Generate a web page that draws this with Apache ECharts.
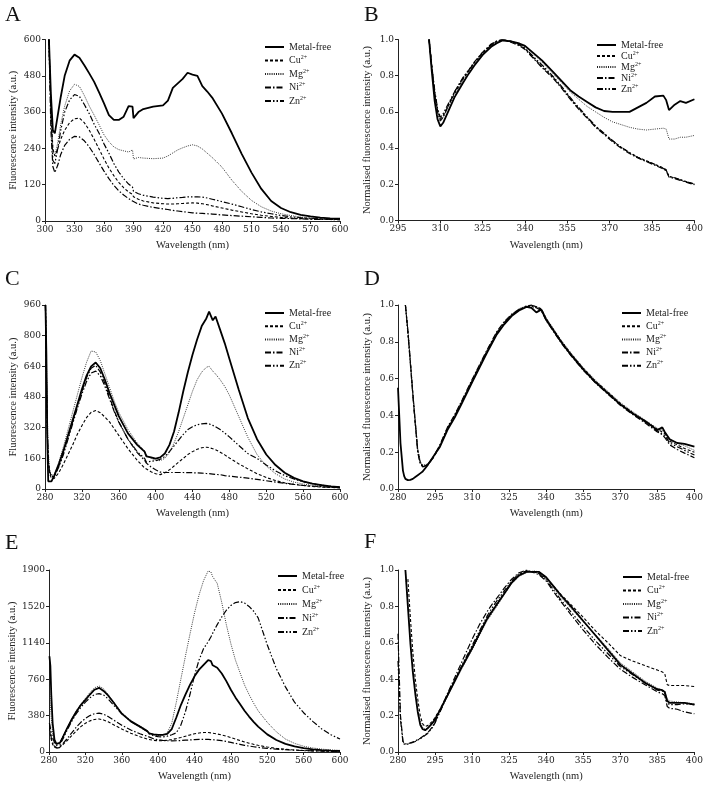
<!DOCTYPE html>
<html><head><meta charset="utf-8">
<script src="https://cdn.jsdelivr.net/npm/echarts@6/dist/echarts.min.js"></script>
<style>html,body{margin:0;padding:0;background:#fff}#c{width:706px;height:786px}</style>
</head><body><div id="c"></div>
<script>
// ---------- Panel A ----------
const A_x = [304,306,308,310,313,316,320,325,330,335,340,345,350,355,360,365,370,375,380,385,389,390,395,400,410,420,425,430,435,440,445,450,455,460,465,470,480,490,500,510,520,530,540,550,560,570,580,590,600];
const A_metal = [600,420,300,290,350,410,480,530,550,540,515,488,460,425,389,350,334,334,345,380,378,340,360,370,378,382,398,440,455,470,490,484,480,446,428,408,355,290,222,160,106,66,43,29,20,15,11,9,8];
const A_cu = [600,380,240,215,240,270,300,325,338,340,325,300,270,238,205,175,150,128,110,96,88,80,72,66,60,57,56,56,57,58,59,60,59,57,54,50,43,36,30,24,19,15,12,10,8,7,6,5,5];
const A_mg = [600,400,230,215,260,320,380,430,452,445,415,380,350,318,285,262,245,236,232,228,235,205,210,208,206,208,215,225,235,242,248,252,248,238,224,210,178,135,98,68,47,33,24,18,13,10,8,6,5];
const A_ni = [600,300,180,160,185,220,250,270,280,278,265,245,220,192,165,140,118,100,86,74,66,62,56,52,45,40,38,35,33,31,29,27,26,25,24,23,20,18,16,14,12,10,9,8,7,6,5,5,4];
const A_zn = [600,350,200,190,240,300,360,400,418,412,385,355,320,290,255,224,190,162,140,122,112,98,90,85,79,75,74,75,77,78,80,80,80,79,76,72,64,56,47,38,30,24,18,14,11,9,7,6,5];
const A_xticks = [300, 600, 30];
const A_yticks = [0, 600, 120];

// ---------- Panel B ----------
const B_x = [306,307,308,309,310,311,313,315,318,320,322,325,328,330,332,335,338,340,343,346,350,353,356,359,362,365,368,371,374,377,380,383,386,389,390,391,393,395,397,400];
const B_metal = [1.0,0.82,0.66,0.56,0.52,0.54,0.61,0.68,0.76,0.81,0.855,0.915,0.96,0.98,0.995,0.99,0.978,0.965,0.925,0.885,0.82,0.77,0.72,0.685,0.655,0.625,0.605,0.6,0.6,0.6,0.625,0.65,0.685,0.69,0.665,0.61,0.64,0.66,0.65,0.67];
const B_cu = [1.0,0.85,0.71,0.61,0.56,0.58,0.64,0.7,0.78,0.825,0.87,0.925,0.97,0.99,1.0,0.99,0.97,0.95,0.9,0.85,0.79,0.735,0.675,0.62,0.57,0.52,0.48,0.44,0.405,0.375,0.35,0.33,0.31,0.29,0.28,0.245,0.235,0.225,0.215,0.2];
const B_mg = [1.0,0.84,0.7,0.6,0.55,0.57,0.63,0.69,0.77,0.815,0.86,0.92,0.965,0.985,0.998,0.992,0.975,0.96,0.92,0.875,0.81,0.76,0.71,0.67,0.63,0.6,0.57,0.545,0.53,0.515,0.505,0.5,0.505,0.51,0.505,0.45,0.45,0.46,0.46,0.47];
const B_ni = [1.0,0.84,0.7,0.6,0.55,0.57,0.64,0.71,0.79,0.83,0.875,0.93,0.975,0.992,0.998,0.985,0.965,0.945,0.895,0.845,0.785,0.73,0.67,0.615,0.565,0.515,0.475,0.435,0.4,0.37,0.345,0.325,0.305,0.285,0.275,0.24,0.232,0.222,0.212,0.198];
const B_zn = [1.0,0.85,0.72,0.62,0.57,0.59,0.65,0.71,0.785,0.83,0.87,0.93,0.97,0.99,0.995,0.99,0.972,0.952,0.905,0.86,0.795,0.74,0.68,0.625,0.572,0.522,0.482,0.442,0.405,0.375,0.348,0.328,0.31,0.288,0.278,0.243,0.236,0.226,0.214,0.202];
const B_xticks = [295, 400, 15];
const B_yticks = [0, 1, 0.2];

// ---------- Panel C ----------
const C_x = [280.5,281.5,282.5,283.5,285,287,290,295,300,305,310,315,320,325,330,335,340,345,350,355,360,370,380,388,390,395,400,405,410,415,420,425,430,435,440,445,450,455,458,462,465,470,475,480,490,500,510,520,530,540,550,560,570,580,590,600];
const C_metal = [960,700,250,40,30,40,70,130,200,280,360,440,520,590,640,660,630,570,500,440,380,290,230,195,170,165,158,165,185,230,300,400,510,610,700,780,850,890,925,880,900,830,760,680,520,370,260,180,125,85,58,40,28,20,14,10];
const C_cu = [960,600,300,150,80,55,55,85,130,180,230,285,330,372,400,410,398,375,350,315,280,210,150,110,103,90,80,75,85,100,120,140,160,180,195,207,215,218,216,210,205,192,178,162,132,105,80,60,44,32,24,18,13,10,8,6];
const C_mg = [960,700,400,200,100,70,75,140,220,310,400,490,580,660,720,715,670,600,530,460,400,310,240,200,175,160,150,148,160,190,240,300,370,440,510,570,610,635,640,615,600,570,535,490,380,270,180,120,80,52,36,26,19,14,10,7];
const C_ni = [960,600,300,150,90,65,65,120,190,270,350,430,510,580,630,645,610,550,480,410,350,260,190,150,135,115,100,88,86,86,86,86,86,85,85,84,83,81,80,78,76,75,70,67,62,57,50,43,36,30,24,19,15,12,9,7];
const C_zn = [960,600,300,150,90,65,65,115,180,260,340,420,495,560,605,615,590,535,470,405,350,260,195,160,140,145,148,155,170,195,225,255,285,310,325,335,340,342,340,332,325,310,292,272,228,185,160,125,95,70,52,38,28,20,14,10];
const C_xticks = [280, 600, 40];
const C_yticks = [0, 960, 160];

// ---------- Panel D ----------
const D_x = [280,281,282,282.5,283,284,285,286,287,288,289,290,292,294,295,297,300,303,306,310,313,316,320,323,326,329,332,334,336,338,340,343,346,350,355,360,365,370,375,380,385,387,388,390,393,396,400];
const D_metal = [0.55,0.25,0.1,0.07,0.055,0.048,0.05,0.055,0.065,0.075,0.085,0.095,0.13,0.17,0.19,0.23,0.32,0.39,0.47,0.58,0.66,0.74,0.84,0.895,0.94,0.97,0.99,0.985,0.96,0.975,0.92,0.86,0.8,0.73,0.65,0.58,0.52,0.46,0.41,0.37,0.32,0.335,0.31,0.27,0.25,0.245,0.23];
const D_cu = [null,null,null,null,1.0,0.86,0.69,0.52,0.36,0.21,0.145,0.125,0.13,0.165,0.185,0.235,0.325,0.395,0.475,0.585,0.665,0.745,0.845,0.9,0.945,0.975,0.99,1.0,0.99,0.98,0.925,0.865,0.805,0.735,0.655,0.585,0.525,0.465,0.415,0.37,0.325,0.31,0.3,0.26,0.24,0.22,0.2];
const D_mg = [null,null,null,null,1.0,0.87,0.7,0.53,0.37,0.22,0.15,0.13,0.135,0.17,0.19,0.24,0.33,0.4,0.48,0.59,0.67,0.75,0.85,0.905,0.95,0.98,0.995,0.99,0.985,0.98,0.93,0.87,0.81,0.74,0.66,0.59,0.53,0.47,0.42,0.375,0.33,0.32,0.305,0.27,0.25,0.235,0.21];
const D_ni = [null,null,null,null,1.0,0.85,0.68,0.51,0.35,0.2,0.14,0.12,0.13,0.165,0.19,0.24,0.335,0.405,0.485,0.595,0.675,0.755,0.855,0.91,0.95,0.975,0.99,0.995,0.985,0.97,0.915,0.855,0.795,0.725,0.645,0.575,0.515,0.455,0.405,0.36,0.31,0.295,0.28,0.24,0.215,0.195,0.17];
const D_zn = [null,null,null,null,1.0,0.86,0.69,0.52,0.36,0.2,0.14,0.122,0.132,0.168,0.19,0.238,0.33,0.4,0.48,0.59,0.67,0.75,0.85,0.905,0.945,0.975,0.995,1.0,0.99,0.975,0.92,0.86,0.8,0.73,0.65,0.58,0.52,0.46,0.41,0.365,0.315,0.3,0.29,0.25,0.23,0.21,0.185];
const D_xticks = [280, 400, 15];
const D_yticks = [0, 1, 0.2];

// ---------- Panel E ----------
const E_x = [280.5,281.5,282.5,284,286,288,290,292,295,300,305,310,315,320,325,330,335,340,345,350,360,370,380,388,390,395,400,405,410,415,420,425,430,435,440,445,450,455,458,460,465,470,475,480,485,490,495,500,505,510,520,530,540,550,560,570,580,590,600];
const E_metal = [1000,900,600,300,130,85,80,95,150,250,340,420,490,545,600,650,670,637,590,530,400,320,265,220,195,185,178,178,190,240,360,490,600,700,790,860,910,960,950,905,880,820,740,650,570,500,430,370,315,265,184,125,85,58,40,28,20,14,11];
const E_cu = [250,180,130,80,50,35,35,45,75,120,170,220,265,300,325,340,345,335,315,290,240,195,160,135,128,122,118,118,122,130,140,152,165,178,190,198,203,203,200,197,188,178,165,150,135,120,105,92,80,70,52,38,28,21,16,12,10,8,7];
const E_mg = [700,500,350,200,110,80,80,100,160,260,350,430,500,560,620,670,690,660,600,535,410,330,270,225,200,180,170,172,200,300,520,760,1000,1230,1450,1640,1790,1890,1880,1830,1760,1560,1330,1130,960,830,700,600,510,430,310,210,135,90,60,42,30,22,17];
const E_ni = [300,200,150,100,60,40,40,50,85,140,200,260,310,350,380,400,405,395,370,340,280,230,190,165,150,138,128,122,118,117,118,120,123,126,129,131,132,131,130,128,124,118,110,100,90,80,70,62,55,48,38,30,24,19,15,12,10,8,7];
const E_zn = [300,250,200,150,100,70,60,75,130,230,320,400,465,520,565,600,610,595,555,500,400,320,260,215,190,170,160,158,165,180,200,280,420,600,800,960,1080,1150,1200,1240,1330,1410,1480,1530,1560,1570,1555,1520,1470,1400,1120,870,680,520,410,320,240,180,135];
const E_xticks = [280, 600, 40];
const E_yticks = [0, 1900, 380];

// ---------- Panel F ----------
const F_x = [280,281,282,282.5,283,284,285,286,287,288,289,290,291,292,294,295,297,300,303,306,310,313,316,318,320,323,326,329,332,335,337,340,343,346,350,355,360,365,370,375,380,385,387,388,389,390,393,396,400];
const F_metal = [null,null,null,null,1.0,0.8,0.6,0.44,0.32,0.22,0.15,0.125,0.12,0.13,0.16,0.18,0.23,0.31,0.39,0.47,0.57,0.65,0.73,0.77,0.81,0.87,0.93,0.97,0.99,0.99,0.99,0.96,0.91,0.86,0.8,0.72,0.64,0.56,0.48,0.43,0.38,0.345,0.34,0.33,0.28,0.27,0.27,0.27,0.26];
const F_cu = [null,null,null,null,null,0.95,0.74,0.55,0.4,0.29,0.2,0.155,0.14,0.145,0.17,0.19,0.235,0.315,0.395,0.475,0.575,0.655,0.735,0.775,0.815,0.875,0.935,0.975,0.995,0.99,0.985,0.955,0.91,0.865,0.81,0.74,0.665,0.6,0.53,0.5,0.475,0.45,0.44,0.43,0.37,0.365,0.365,0.365,0.36];
const F_mg = [null,null,null,null,1.0,0.82,0.62,0.46,0.34,0.24,0.165,0.135,0.125,0.13,0.155,0.175,0.225,0.305,0.385,0.465,0.56,0.64,0.72,0.76,0.8,0.865,0.925,0.965,0.985,0.995,0.99,0.95,0.9,0.85,0.79,0.715,0.645,0.57,0.49,0.44,0.39,0.35,0.34,0.335,0.29,0.28,0.275,0.27,0.265];
const F_ni = [0.65,0.2,0.06,0.045,0.042,0.045,0.05,0.055,0.06,0.068,0.075,0.085,0.095,0.105,0.14,0.165,0.225,0.32,0.41,0.5,0.62,0.7,0.77,0.81,0.845,0.9,0.95,0.985,1.0,0.985,0.975,0.94,0.88,0.825,0.755,0.67,0.59,0.52,0.455,0.41,0.37,0.33,0.32,0.31,0.25,0.24,0.235,0.22,0.21];
const F_zn = [0.5,0.18,0.055,0.043,0.04,0.043,0.048,0.053,0.058,0.066,0.073,0.082,0.092,0.102,0.135,0.16,0.22,0.31,0.395,0.48,0.585,0.665,0.745,0.79,0.83,0.885,0.94,0.98,0.995,0.99,0.98,0.945,0.89,0.835,0.77,0.69,0.61,0.54,0.47,0.425,0.38,0.34,0.335,0.325,0.27,0.26,0.26,0.265,0.26];
const F_xticks = [280, 400, 15];
const F_yticks = [0, 1, 0.2];

const seriesNames = ['Metal-free', 'Cu2+', 'Mg2+', 'Ni2+', 'Zn2+'];
const xTitle = 'Wavelength (nm)';
const yTitleRaw = 'Fluorescence intensity (a.u.)';
const yTitleNorm = 'Normalised fluorescence intensity (a.u.)';

// ---------- layout / style ----------
const LINE = {
  'Metal-free': {width: 1.8, type: 'solid', color: '#000'},
  'Cu2+': {width: 1.1, type: [3, 2], color: '#000'},
  'Mg2+': {width: 0.9, type: [1, 1.2], color: '#222'},
  'Ni2+': {width: 1.2, type: [6, 2, 1.5, 2], color: '#000'},
  'Zn2+': {width: 1.2, type: [6, 2, 1.5, 2, 1.5, 2], color: '#000'}
};
const panels = [
  {L:'A', x:A_x, ys:[A_metal,A_cu,A_mg,A_ni,A_zn], xt:A_xticks, yt:A_yticks, yname:yTitleRaw, grid:{left:45,top:39.5,width:295,height:181.5}, ygap:26, letter:[5,4], lg:{left:264,top:42,gap:2.5}, dec:0},
  {L:'B', x:B_x, ys:[B_metal,B_cu,B_mg,B_ni,B_zn], xt:B_xticks, yt:B_yticks, yname:yTitleNorm, grid:{left:398,top:39.5,width:298,height:181}, ygap:25, letter:[364,4], lg:{left:596,top:40,gap:0}, dec:1},
  {L:'C', x:C_x, ys:[C_metal,C_cu,C_mg,C_ni,C_zn], xt:C_xticks, yt:C_yticks, yname:yTitleRaw, grid:{left:45,top:305,width:295,height:184}, ygap:26, letter:[5,268], lg:{left:264,top:308,gap:2.2}, dec:0},
  {L:'D', x:D_x, ys:[D_metal,D_cu,D_mg,D_ni,D_zn], xt:D_xticks, yt:D_yticks, yname:yTitleNorm, grid:{left:398,top:305,width:298,height:184}, ygap:25, letter:[364,268], lg:{left:621,top:308,gap:2.2}, dec:1},
  {L:'E', x:E_x, ys:[E_metal,E_cu,E_mg,E_ni,E_zn], xt:E_xticks, yt:E_yticks, yname:yTitleRaw, grid:{left:49,top:570,width:291,height:182}, ygap:30, letter:[5,532], lg:{left:277,top:571,gap:3}, dec:0},
  {L:'F', x:F_x, ys:[F_metal,F_cu,F_mg,F_ni,F_zn], xt:F_xticks, yt:F_yticks, yname:yTitleNorm, grid:{left:398,top:570,width:298,height:182}, ygap:25, letter:[364,531], lg:{left:622,top:572,gap:2.5}, dec:1}
];

const SERIF = "'Liberation Serif','DejaVu Serif',serif";
const TICKFONT = "'DejaVu Serif','Liberation Serif',serif";

const option = {
  animation: false,
  backgroundColor: '#fff',
  grid: [], xAxis: [], yAxis: [], series: [], legend: [], graphic: []
};

panels.forEach((p, gi) => {
  option.grid.push(Object.assign({containLabel: false}, p.grid));
  option.xAxis.push({
    type: 'value', gridIndex: gi, min: p.xt[0], max: p.xt[1], interval: p.xt[2],
    name: xTitle, nameLocation: 'middle', nameGap: 19,
    nameTextStyle: {fontFamily: SERIF, fontSize: 10.5, color: '#222'},
    axisLine: {show: true, onZero: false, lineStyle: {color: '#222', width: 1}},
    axisTick: {show: true, inside: false, length: 3, lineStyle: {color: '#222'}},
    axisLabel: {fontFamily: TICKFONT, fontSize: 9, color: '#222', margin: 4},
    splitLine: {show: false}
  });
  option.yAxis.push({
    type: 'value', gridIndex: gi, min: p.yt[0], max: p.yt[1], interval: p.yt[2],
    name: p.yname, nameLocation: 'middle', nameGap: p.ygap, nameRotate: 90,
    nameTextStyle: {fontFamily: SERIF, fontSize: 10.5, color: '#222'},
    axisLine: {show: true, onZero: false, lineStyle: {color: '#222', width: 1}},
    axisTick: {show: true, inside: false, length: 3, lineStyle: {color: '#222'}},
    axisLabel: {fontFamily: TICKFONT, fontSize: 9, color: '#222', margin: 4,
      formatter: p.dec ? (v => v.toFixed(1)) : (v => String(v))},
    splitLine: {show: false}
  });
  seriesNames.forEach((nm, si) => {
    const data = [];
    p.x.forEach((xv, i) => { const yv = p.ys[si][i]; if (yv !== null && yv !== undefined) data.push([xv, yv]); });
    const ls = LINE[nm];
    option.series.push({
      type: 'line', name: nm, xAxisIndex: gi, yAxisIndex: gi, data: data,
      symbol: 'none', smooth: false, clip: true,
      lineStyle: {color: ls.color, width: ls.width, type: ls.type},
      itemStyle: {color: ls.color},
      emphasis: {disabled: true}, z: 5 - si
    });
  });
  option.legend.push({
    orient: 'vertical', left: p.lg.left, top: p.lg.top, itemGap: p.lg.gap,
    itemWidth: 19, itemHeight: 1, padding: 0, selectedMode: false,
    itemStyle: {opacity: 0, borderWidth: 0},
    data: seriesNames,
    formatter: function (n) {
      const m = n.match(/^([A-Z][a-z])(\d\+)$/);
      return m ? '{b|' + m[1] + '}{s|' + m[2] + '}' : '{b|' + n + '}';
    },
    textStyle: {
      color: '#222', fontFamily: SERIF, fontSize: 10,
      rich: {
        b: {fontFamily: SERIF, fontSize: 10, lineHeight: 12, color: '#222'},
        s: {fontFamily: SERIF, fontSize: 6, lineHeight: 12, verticalAlign: 'top', color: '#222'}
      }
    }
  });
  option.graphic.push({
    type: 'text', left: p.letter[0], top: p.letter[1],
    style: {text: p.L, font: "22px 'Liberation Serif', serif", fill: '#111'}
  });
});

const chart = echarts.init(document.getElementById('c'), null, {renderer: 'canvas'});
chart.setOption(option);
</script>
</body></html>
